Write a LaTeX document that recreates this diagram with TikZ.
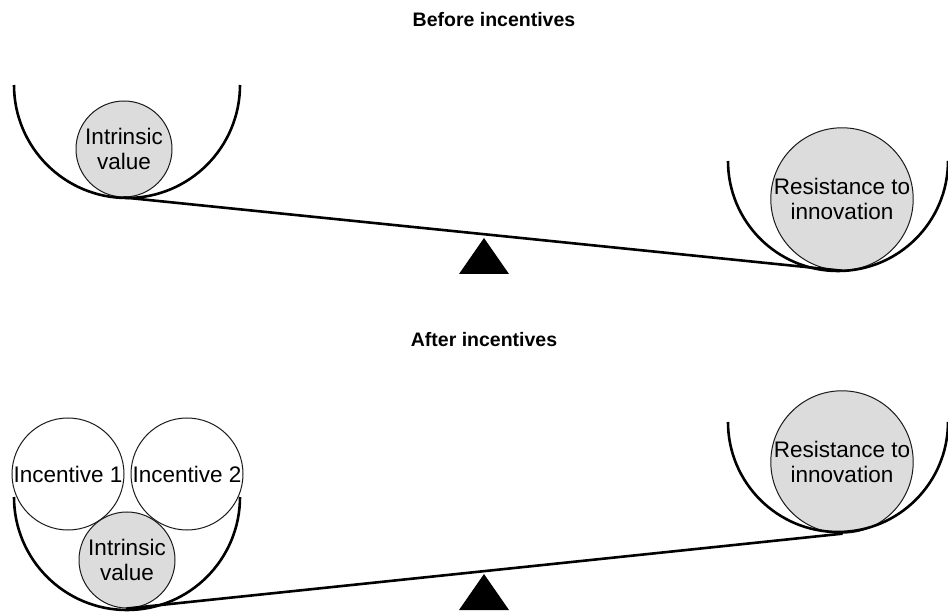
\documentclass[tikz,border=0pt]{standalone}
\usepackage{fontspec}
\setmainfont{Liberation Sans}
\usepackage{tikz}
\usetikzlibrary{positioning, calc}
\usepackage{xcolor}
\definecolor{wGray} {HTML}{DCDCDC}
\definecolor{wLine} {HTML}{1A1A1A}

\tikzset{
  weight/.style={circle, draw=wLine, line width=1pt, fill=wGray, align=center,
                 inner sep=0pt, font=\fontsize{22.5}{25}\selectfont},
  bonus/.style={weight, fill=white},
  cup/.style={line width=2.6pt, black},
  beam/.style={line width=2.6pt, black, line cap=round},
  heading/.style={font=\fontsize{19.5}{22}\selectfont\bfseries}
}

\begin{document}
\begin{tikzpicture}[x=1pt, y=1pt]
    \useasboundingbox (0,0) rectangle (948,611);
    \clip (0,0) rectangle (948,611);

    % before incentives
    \node[heading] (before) at (494,591) {Before incentives};
    \node[weight, minimum size=96pt]  (valA) at (124,462) {Intrinsic\\value};
    \node[weight, minimum size=142pt] (resA) at (842,412) {Resistance to\\innovation};
    \draw[cup] (14,526) arc[start angle=180, end angle=360, radius=113pt];
    \draw[cup] (728,450) arc[start angle=180, end angle=360, radius=110pt];
    \draw[beam] (valA.south) -- (resA.south);
    \coordinate (pivotA) at (484,373);
    \fill (pivotA) -- ++(-25,-36) -- ++(50,0) -- cycle;

    % after incentives
    \node[heading] (after) at (484,271) {After incentives};
    \node[bonus, minimum size=112pt]  (incA) at (68,137)  {Incentive 1};
    \node[bonus, minimum size=112pt]  (incB) at (187,137) {Incentive 2};
    \node[weight, minimum size=96pt]  (valB) at (127,51)  {Intrinsic\\value};
    \node[weight, minimum size=142pt] (resB) at (842,149) {Resistance to\\innovation};
    \draw[cup] (14,114) arc[start angle=180, end angle=360, radius=113pt];
    \draw[cup] (728,189) arc[start angle=180, end angle=360, radius=110pt];
    \draw[beam] (valB.south) -- (resB.south);
    \coordinate (pivotB) at (484,37);
    \fill (pivotB) -- ++(-25,-36) -- ++(50,0) -- cycle;
\end{tikzpicture}
\end{document}
